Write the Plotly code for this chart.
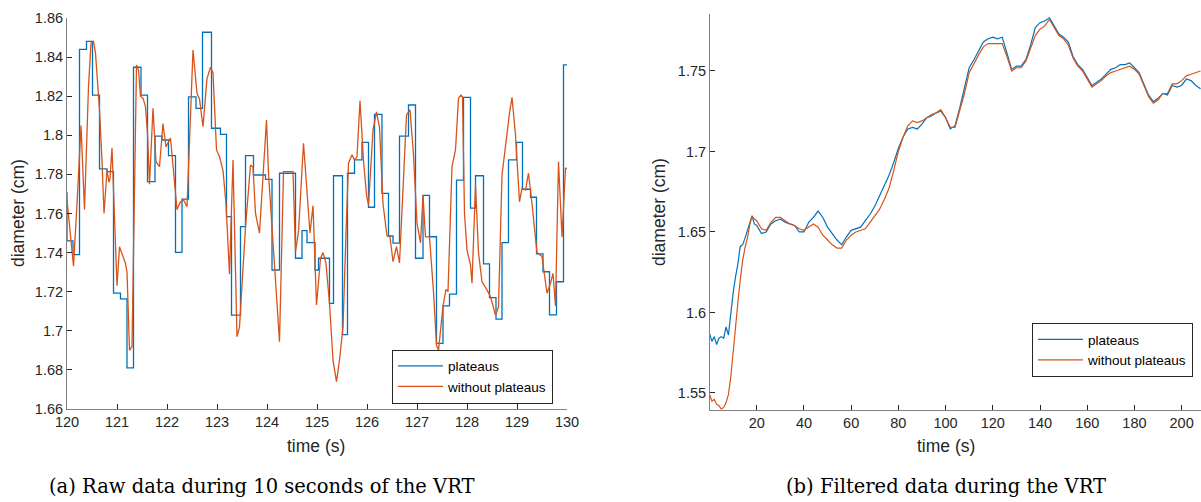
import plotly.graph_objects as go

# ---------------- (a) raw data, 120-130 s ----------------
# stair-step series: start time of each plateau and its value
raw_step_t = [119.87, 120.0, 120.12, 120.25, 120.39, 120.51, 120.65, 120.8, 120.93, 121.07,
              121.2, 121.33, 121.48, 121.61, 121.76, 121.9, 122.03, 122.17, 122.3, 122.43,
              122.58, 122.71, 122.89, 123.07, 123.19, 123.29, 123.47, 123.57, 123.73, 123.97,
              124.1, 124.25, 124.57, 124.7, 124.8, 124.96, 125.03, 125.25, 125.33, 125.51,
              125.61, 125.75, 125.9, 126.03, 126.15, 126.3, 126.43, 126.52, 126.65, 126.83,
              126.97, 127.12, 127.25, 127.39, 127.52, 127.65, 127.79, 127.93, 128.07, 128.17,
              128.33, 128.45, 128.58, 128.7, 128.83, 128.99, 129.11, 129.27, 129.39, 129.52,
              129.65, 129.79, 129.93, 130.05]
raw_step_d = [1.7705, 1.746, 1.739, 1.844, 1.848, 1.8206, 1.7828, 1.7814, 1.7193, 1.7163,
              1.681, 1.8348, 1.8206, 1.7763, 1.7996, 1.7976, 1.7896, 1.7401, 1.7674, 1.8197,
              1.8138, 1.8527, 1.8036, 1.8005, 1.7584, 1.708, 1.7533, 1.7896, 1.7797, 1.7775,
              1.7311, 1.7806, 1.7371, 1.7512, 1.7451, 1.7311, 1.7371, 1.714, 1.7793, 1.698,
              1.7806, 1.7874, 1.7964, 1.7632, 1.8107, 1.7703, 1.7485, 1.7448, 1.7996, 1.8155,
              1.7371, 1.7693, 1.7481, 1.6936, 1.7127, 1.7188, 1.7771, 1.8194, 1.7627, 1.7793,
              1.7342, 1.717, 1.706, 1.7451, 1.7874, 1.7964, 1.7724, 1.7683, 1.7393, 1.7302,
              1.7081, 1.7251, 1.836, 1.836]

# continuous series without plateaus
raw_t = [120.0, 120.06, 120.13, 120.2, 120.28, 120.35, 120.43, 120.48, 120.53, 120.57,
         120.65, 120.7, 120.74, 120.8, 120.84, 120.86, 120.9, 121.0, 121.05, 121.17,
         121.2, 121.25, 121.3, 121.39, 121.43, 121.47, 121.52, 121.57, 121.61, 121.65,
         121.72, 121.78, 121.85, 121.92, 121.98, 122.07, 122.13, 122.2, 122.27, 122.33,
         122.4, 122.52, 122.6, 122.65, 122.72, 122.8, 122.87, 122.92, 122.99, 123.05,
         123.12, 123.18, 123.25, 123.32, 123.4, 123.45, 123.57, 123.67, 123.72, 123.77,
         123.85, 123.99, 124.03, 124.15, 124.25, 124.33, 124.52, 124.57, 124.63, 124.73,
         124.86, 124.92, 124.99, 125.07, 125.12, 125.18, 125.25, 125.32, 125.39, 125.45,
         125.52, 125.58, 125.63, 125.7, 125.75, 125.8, 125.86, 125.93, 125.99, 126.03,
         126.12, 126.19, 126.25, 126.32, 126.4, 126.46, 126.52, 126.59, 126.65, 126.79,
         126.86, 126.93, 127.0, 127.07, 127.12, 127.17, 127.25, 127.33, 127.39, 127.43,
         127.48, 127.52, 127.58, 127.62, 127.7, 127.77, 127.83, 127.88, 127.91, 127.95,
         128.0, 128.07, 128.1, 128.17, 128.23, 128.3, 128.4, 128.47, 128.57, 128.63,
         128.7, 128.79, 128.85, 128.9, 128.97, 129.05, 129.1, 129.17, 129.23, 129.3,
         129.4, 129.5, 129.6, 129.67, 129.72, 129.77, 129.83, 129.9, 129.97, 130.0]
raw_d = [1.767, 1.752, 1.733, 1.765, 1.805, 1.762, 1.825, 1.847, 1.848, 1.842,
         1.813, 1.787, 1.760, 1.782, 1.776, 1.778, 1.7935, 1.723, 1.743, 1.7345,
         1.730, 1.690, 1.692, 1.836, 1.8334, 1.820, 1.819, 1.8146, 1.801, 1.775,
         1.8138, 1.7865, 1.784, 1.806, 1.794, 1.7986, 1.780, 1.762, 1.766, 1.767,
         1.7635, 1.8436, 1.8215, 1.8186, 1.8044, 1.829, 1.8348, 1.832, 1.7925, 1.789,
         1.782, 1.765, 1.729, 1.7874, 1.697, 1.702, 1.753, 1.7848, 1.7838, 1.760,
         1.750, 1.8078, 1.7805, 1.735, 1.6944, 1.7814, 1.7814, 1.7405, 1.7507, 1.7959,
         1.750, 1.764, 1.7132, 1.737, 1.740, 1.7345, 1.714, 1.685, 1.674, 1.685,
         1.702, 1.750, 1.7857, 1.790, 1.7874, 1.789, 1.8177, 1.787, 1.7695, 1.7643,
         1.8027, 1.812, 1.804, 1.765, 1.7485, 1.748, 1.7354, 1.743, 1.7347, 1.8104,
         1.813, 1.790, 1.755, 1.745, 1.7695, 1.748, 1.748, 1.720, 1.6927, 1.690,
         1.702, 1.7127, 1.7212, 1.720, 1.784, 1.7925, 1.819, 1.8206, 1.8195, 1.760,
         1.7413, 1.7337, 1.7243, 1.7746, 1.740, 1.7251, 1.7209, 1.7174, 1.708, 1.7122,
         1.7797, 1.7993, 1.8113, 1.8194, 1.800, 1.766, 1.7729, 1.772, 1.7806, 1.765,
         1.740, 1.738, 1.7192, 1.7243, 1.7294, 1.7127, 1.7865, 1.748, 1.7831, 1.783]

raw_xticks = [120, 121, 122, 123, 124, 125, 126, 127, 128, 129, 130]
raw_yticks = [1.66, 1.68, 1.70, 1.72, 1.74, 1.76, 1.78, 1.80, 1.82, 1.84, 1.86]
raw_ytext = ["1.66", "1.68", "1.7", "1.72", "1.74", "1.76", "1.78", "1.8", "1.82", "1.84", "1.86"]

# ---------------- (b) filtered data over the whole VRT ----------------
# 1 s spacing during the initial rise, 2 s afterwards
filt_t = list(range(0, 20)) + list(range(20, 210, 2))
filt_plateaus = [1.587, 1.582, 1.585, 1.580, 1.584, 1.585, 1.584, 1.591, 1.586, 1.600,
                 1.612, 1.622, 1.630, 1.641, 1.642, 1.646, 1.651, 1.656, 1.660, 1.655,
                 1.654, 1.649, 1.650, 1.655, 1.657, 1.658, 1.656, 1.655, 1.654, 1.650,
                 1.650, 1.656, 1.659, 1.663, 1.659, 1.653, 1.649, 1.645, 1.642, 1.647,
                 1.651, 1.652, 1.653, 1.657, 1.661, 1.666, 1.672, 1.678, 1.685, 1.693,
                 1.702, 1.709, 1.714, 1.715, 1.714, 1.717, 1.721, 1.722, 1.724, 1.725,
                 1.721, 1.714, 1.716, 1.727, 1.740, 1.752, 1.757, 1.763, 1.768, 1.770,
                 1.771, 1.770, 1.771, 1.761, 1.751, 1.753, 1.753, 1.757, 1.766, 1.777,
                 1.780, 1.781, 1.783, 1.778, 1.773, 1.771, 1.768, 1.759, 1.754, 1.751,
                 1.746, 1.741, 1.743, 1.745, 1.748, 1.751, 1.752, 1.754, 1.754, 1.755,
                 1.752, 1.749, 1.742, 1.735, 1.731, 1.733, 1.736, 1.735, 1.741, 1.740,
                 1.741, 1.745, 1.744, 1.741, 1.739]
filt_no_plateaus = [1.549, 1.545, 1.546, 1.543, 1.542, 1.540, 1.541, 1.544, 1.549, 1.560,
                    1.575, 1.592, 1.606, 1.620, 1.632, 1.640, 1.646, 1.654, 1.660, 1.658,
                    1.657, 1.652, 1.651, 1.656, 1.659, 1.659, 1.657, 1.655, 1.654, 1.652,
                    1.651, 1.653, 1.655, 1.653, 1.648, 1.645, 1.642, 1.640, 1.640, 1.645,
                    1.648, 1.650, 1.651, 1.652, 1.656, 1.660, 1.664, 1.670, 1.677, 1.688,
                    1.700, 1.709, 1.716, 1.719, 1.718, 1.719, 1.721, 1.723, 1.724, 1.726,
                    1.721, 1.715, 1.715, 1.725, 1.736, 1.749, 1.755, 1.760, 1.765, 1.767,
                    1.767, 1.767, 1.767, 1.759, 1.750, 1.752, 1.752, 1.756, 1.764, 1.772,
                    1.776, 1.778, 1.782, 1.777, 1.772, 1.770, 1.766, 1.758, 1.753, 1.750,
                    1.745, 1.740, 1.742, 1.744, 1.747, 1.749, 1.750, 1.751, 1.752, 1.753,
                    1.751, 1.748, 1.741, 1.734, 1.730, 1.732, 1.736, 1.736, 1.742, 1.742,
                    1.744, 1.747, 1.748, 1.749, 1.750]

filt_xticks = [20, 40, 60, 80, 100, 120, 140, 160, 180, 200]
filt_yticks = [1.55, 1.60, 1.65, 1.70, 1.75]
filt_ytext = ["1.55", "1.6", "1.65", "1.7", "1.75"]

BLUE = "#0072BD"
ORANGE = "#D95319"
INK = "#262626"
SANS = "Liberation Sans, Arial, sans-serif"
SERIF = "DejaVu Serif, serif"

W, H = 1201, 502


def px_x(p):
    return p / W


def px_y(p):
    return 1 - p / H


fig = go.Figure()

fig.add_trace(go.Scatter(x=raw_step_t, y=raw_step_d, mode="lines", name="plateaus",
                         line=dict(color=BLUE, width=1.3, shape="hv"),
                         xaxis="x", yaxis="y", legend="legend"))
fig.add_trace(go.Scatter(x=raw_t, y=raw_d, mode="lines", name="without plateaus",
                         line=dict(color=ORANGE, width=1.3),
                         xaxis="x", yaxis="y", legend="legend"))
fig.add_trace(go.Scatter(x=filt_t, y=filt_plateaus, mode="lines", name="plateaus",
                         line=dict(color=BLUE, width=1.2),
                         xaxis="x2", yaxis="y2", legend="legend2"))
fig.add_trace(go.Scatter(x=filt_t, y=filt_no_plateaus, mode="lines", name="without plateaus",
                         line=dict(color=ORANGE, width=1.2),
                         xaxis="x2", yaxis="y2", legend="legend2"))

axis_style = dict(showline=True, linecolor="#808080", linewidth=1, mirror=False,
                  ticks="inside", ticklen=5, tickwidth=1, tickcolor=INK,
                  showgrid=False, zeroline=False, automargin=False,
                  tickfont=dict(family=SANS, size=14.5, color=INK))

legend_style = dict(bgcolor="white", bordercolor=INK, borderwidth=1,
                    font=dict(family=SANS, size=13.5, color="black"),
                    xanchor="right", yanchor="middle", tracegroupgap=0, itemwidth=45)

fig.update_layout(
    width=W, height=H,
    margin=dict(l=0, r=0, t=0, b=0, autoexpand=False),
    paper_bgcolor="white", plot_bgcolor="white",
    xaxis=dict(domain=[px_x(67), px_x(567)], range=[120, 130], anchor="y",
               tickvals=raw_xticks, **axis_style),
    yaxis=dict(domain=[px_y(409), px_y(18)], range=[1.66, 1.86], anchor="x",
               tickvals=raw_yticks, ticktext=raw_ytext, **axis_style),
    xaxis2=dict(domain=[px_x(710), 1.0], range=[0.2, 208.2], anchor="y2",
                tickvals=filt_xticks, **axis_style),
    yaxis2=dict(domain=[px_y(410), px_y(14)], range=[1.5394, 1.7854], anchor="x2",
                tickvals=filt_yticks, ticktext=filt_ytext, **axis_style),
    legend=dict(x=px_x(553), y=px_y(376.5), **legend_style),
    legend2=dict(x=px_x(1193), y=px_y(350), **legend_style),
    showlegend=True,
)

label_font = dict(family=SANS, size=17.5, color=INK)
caption_font = dict(family=SERIF, size=19.5, color="black")

annotations = [
    dict(text="time (s)", x=px_x(316), y=px_y(446), font=label_font),
    dict(text="time (s)", x=px_x(946), y=px_y(446), font=label_font),
    dict(text="diameter (cm)", x=px_x(18), y=px_y(213), font=label_font, textangle=-90),
    dict(text="diameter (cm)", x=px_x(659), y=px_y(212), font=label_font, textangle=-90),
    dict(text="(a) Raw data during 10 seconds of the VRT", x=px_x(261), y=px_y(486),
         font=caption_font),
    dict(text="(b) Filtered data during the VRT", x=px_x(946), y=px_y(486),
         font=caption_font),
]
for a in annotations:
    a.update(xref="paper", yref="paper", showarrow=False, xanchor="center", yanchor="middle")
fig.update_layout(annotations=annotations)

fig.write_html("out.html")
